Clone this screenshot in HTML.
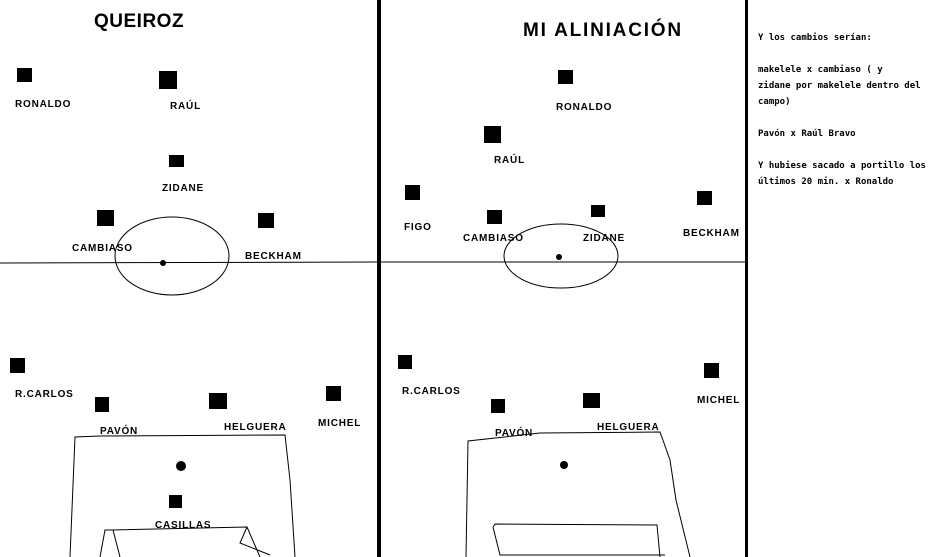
<!DOCTYPE html>
<html><head><meta charset="utf-8"><style>
html,body{margin:0;padding:0;background:#fff;width:934px;height:557px;overflow:hidden}
svg{display:block}
.l{font-family:"Liberation Sans",sans-serif;font-weight:bold;font-size:10px;letter-spacing:0.8px;fill:#000}
.t{font-family:"Liberation Sans",sans-serif;font-weight:bold;font-size:19px;fill:#000}
.r{font-family:"DejaVu Sans Mono","Liberation Mono",monospace;font-weight:bold;font-size:9px;fill:#000}
</style></head><body>
<svg width="934" height="557" viewBox="0 0 934 557" xmlns="http://www.w3.org/2000/svg">
<g fill="none" stroke="#000" stroke-width="1">
<line x1="0" y1="263" x2="378" y2="262"/>
<line x1="380" y1="262" x2="746" y2="262"/>
<rect x="377" y="0" width="4" height="557" fill="#000" stroke="none"/>
<rect x="745" y="0" width="3" height="557" fill="#000" stroke="none"/>
<ellipse cx="172" cy="256" rx="57" ry="39"/>
<ellipse cx="561" cy="256" rx="57" ry="32"/>
<polyline points="70,557 75,437 100,436 285,435 290,480 295,557"/>
<polyline points="100,557 105,530 113,530 247,527 260,557"/>
<polyline points="113,530 120,557"/>
<polyline points="247,527 240,543 270,555"/>
<polyline points="466,557 468,441 540,433 660,432 670,460 676,500 690,557"/>
<polyline points="493,527 495,524 657,525 660,557"/>
<polyline points="493,527 500,555 665,555"/>
</g>
<g fill="#000">
<rect x="17" y="68" width="15" height="14"/>
<rect x="159" y="71" width="18" height="18"/>
<rect x="169" y="155" width="15" height="12"/>
<rect x="97" y="210" width="17" height="16"/>
<rect x="258" y="213" width="16" height="15"/>
<rect x="10" y="358" width="15" height="15"/>
<rect x="95" y="397" width="14" height="15"/>
<rect x="209" y="393" width="18" height="16"/>
<rect x="326" y="386" width="15" height="15"/>
<rect x="169" y="495" width="13" height="13"/>
<circle cx="163" cy="263" r="3"/>
<circle cx="181" cy="466" r="5"/>
<rect x="558" y="70" width="15" height="14"/>
<rect x="484" y="126" width="17" height="17"/>
<rect x="405" y="185" width="15" height="15"/>
<rect x="487" y="210" width="15" height="14"/>
<rect x="591" y="205" width="14" height="12"/>
<rect x="697" y="191" width="15" height="14"/>
<rect x="398" y="355" width="14" height="14"/>
<rect x="491" y="399" width="14" height="14"/>
<rect x="583" y="393" width="17" height="15"/>
<rect x="704" y="363" width="15" height="15"/>
<circle cx="559" cy="257" r="3"/>
<circle cx="564" cy="465" r="4"/>
</g>
<text class="t" x="94" y="27" letter-spacing="0.5">QUEIROZ</text>
<text class="t" x="523" y="36" letter-spacing="1.8">MI ALINIACIÓN</text>
<text class="l" x="15" y="107">RONALDO</text>
<text class="l" x="170" y="109">RAÚL</text>
<text class="l" x="162" y="191">ZIDANE</text>
<text class="l" x="72" y="251">CAMBIASO</text>
<text class="l" x="245" y="259">BECKHAM</text>
<text class="l" x="15" y="397">R.CARLOS</text>
<text class="l" x="100" y="434">PAVÓN</text>
<text class="l" x="224" y="430">HELGUERA</text>
<text class="l" x="318" y="426">MICHEL</text>
<text class="l" x="155" y="528">CASILLAS</text>
<text class="l" x="556" y="110">RONALDO</text>
<text class="l" x="494" y="163">RAÚL</text>
<text class="l" x="404" y="230">FIGO</text>
<text class="l" x="463" y="241">CAMBIASO</text>
<text class="l" x="583" y="241">ZIDANE</text>
<text class="l" x="683" y="236">BECKHAM</text>
<text class="l" x="402" y="394">R.CARLOS</text>
<text class="l" x="495" y="436">PAVÓN</text>
<text class="l" x="597" y="430">HELGUERA</text>
<text class="l" x="697" y="403">MICHEL</text>
<text class="r" x="758" y="40">Y los cambios serían:</text>
<text class="r" x="758" y="72">makelele x cambiaso ( y</text>
<text class="r" x="758" y="88">zidane por makelele dentro del</text>
<text class="r" x="758" y="104">campo)</text>
<text class="r" x="758" y="136">Pavón x Raúl Bravo</text>
<text class="r" x="758" y="168">Y hubiese sacado a portillo los</text>
<text class="r" x="758" y="184">últimos 20 min. x Ronaldo</text>
</svg>
</body></html>
